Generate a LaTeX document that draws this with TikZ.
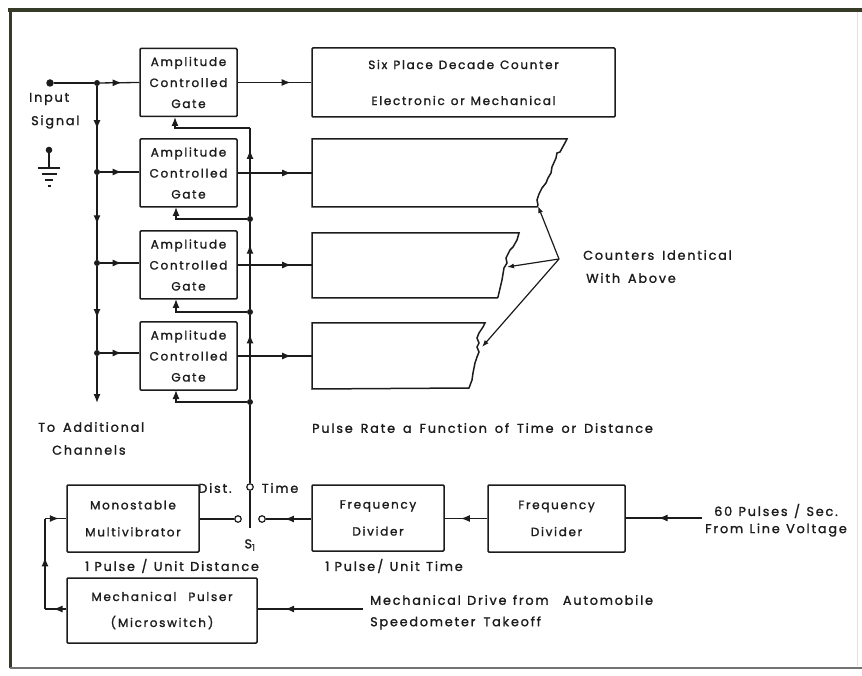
\documentclass[tikz,border=0pt]{standalone}
\usepackage{fontspec}
\setmainfont{Poppins}[LetterSpace=14, FakeBold=1.4]
\usetikzlibrary{decorations.markings,arrows.meta}
\definecolor{ink}{HTML}{1C1C1C}
\definecolor{frameolive}{HTML}{363B28}
\newcommand\wsp{\hspace{0.62em}}
\tikzset{
  box/.style={draw=ink, line width=1.5pt, rounded corners=1pt, align=center, inner sep=0pt, text=ink},
  gatebox/.style={box, minimum width=97pt, minimum height=68pt, font=\fontsize{12}{21}\selectfont},
  wire/.style={draw=ink, line width=1.3pt},
  mid/.style={postaction={decorate}, decoration={markings, mark=at position #1 with {\arrow{Latex[length=9pt,width=7pt]}}}},
  endarr/.style={-{Latex[length=9pt,width=7pt]}},
  jdot/.style={circle, fill=ink, inner sep=0pt, minimum size=6pt},
  term/.style={circle, draw=ink, fill=white, line width=1.2pt, inner sep=0pt, minimum size=6.5pt},
  lbl/.style={inner sep=0pt, text=ink, font=\fontsize{12.8}{15}\selectfont},
}
\begin{document}
\begin{tikzpicture}[x=1pt,y=-1pt]
\useasboundingbox (0,0) rectangle (862,676);
% frame
\draw[frameolive, line width=3.2pt] (8,10) -- (862,10);
\draw[frameolive, line width=3pt] (10,8) -- (10,668);
\draw[black!55, line width=1.3pt] (10,668) -- (862,668);
\draw[black!12, line width=1pt] (857,12) -- (857,666);

% gates
\node[gatebox] (g1) at (188.5,82.5) {Amplitude\\Controlled\\Gate};
\node[gatebox] (g2) at (188.5,173) {Amplitude\\Controlled\\Gate};
\node[gatebox] (g3) at (188.5,265) {Amplitude\\Controlled\\Gate};
\node[gatebox] (g4) at (188.5,356) {Amplitude\\Controlled\\Gate};

% top counter
\node[box, minimum width=303pt, minimum height=69pt, font=\fontsize{12}{36}\selectfont] (c1) at (463.5,82.5) {Six\enspace Place\enspace Decade\enspace Counter\\Electronic\enspace or\enspace Mechanical};

% partial counters
\draw[ink, line width=1.5pt] (312,139) -- (567,139) -- (566,141) -- (560,152) -- (557,153) -- (556,158) -- (552,167) -- (551,173) -- (548,178) -- (546,183) -- (542,188) -- (539,194) -- (537,200) -- (538,205) -- (537,207) -- (312,207) -- cycle;
\draw[ink, line width=1.5pt] (312,233) -- (519,233) -- (517,240) -- (513,247) -- (510,250) -- (506,258) -- (507,263) -- (504,268) -- (502,280) -- (498,297) -- (497,298) -- (312,298) -- cycle;
\draw[ink, line width=1.5pt] (312,323) -- (485,323) -- (483,327) -- (479,333) -- (477,338) -- (479,343) -- (477,347) -- (479,352) -- (477,357) -- (475,363) -- (473,373) -- (472,380) -- (469,388) -- (312,389) -- cycle;
\coordinate (c2) at (312,173);
\coordinate (c3) at (312,265);
\coordinate (c4) at (312,356);

% input
\node[circle, fill=ink, inner sep=0pt, minimum size=7.5pt] (in) at (50,83) {};
\node[jdot] (j1) at (97,83) {};
\node[jdot] (j2) at (97,172) {};
\node[jdot] (j3) at (97,263) {};
\node[jdot] (j4) at (97,353) {};
\coordinate (jend) at (97,403);
\draw[wire] (in) -- (j1);
\draw[wire, mid=0.55] (j1) -- (g1.west);
\draw[wire, mid=0.55] (j2) -- (j2 -| g2.west);
\draw[wire, mid=0.55] (j3) -- (j3 -| g3.west);
\draw[wire, mid=0.55] (j4) -- (j4 -| g4.west);
\draw[wire, mid=0.52] (j1) -- (j2);
\draw[wire, mid=0.58] (j2) -- (j3);
\draw[wire, mid=0.62] (j3) -- (j4);
\draw[wire, endarr] (j4) -- (jend);

% ground
\fill[ink] (49,150) circle (3.3pt);
\draw[ink, line width=1.5pt] (49,150) -- (49,168);
\draw[ink, line width=1.6pt] (38,168) -- (60,168);
\draw[ink, line width=1.6pt] (41.5,174) -- (56.5,174);
\draw[ink, line width=1.6pt] (45,180) -- (53,180);
\draw[ink, line width=1.6pt] (47.5,186) -- (50.5,186);

% gate outputs
\draw[wire, mid=0.72] (g1.east) -- (c1.west);
\draw[wire, mid=0.72] (g2.east) -- (c2);
\draw[wire, mid=0.72] (g3.east) -- (c3);
\draw[wire, mid=0.72] (g4.east) -- (c4);

% control line
\node[term] (sw) at (250,487) {};
\node[jdot] (k4) at (250,402) {};
\node[jdot] (k3) at (250,312) {};
\node[jdot] (k2) at (250,219) {};
\coordinate (k1) at (250,128);
\draw[wire] (sw) -- (k4);
\draw[wire, mid=0.77] (k4) -- (k3);
\draw[wire, mid=0.74] (k3) -- (k2);
\draw[wire, mid=0.75] (k2) -- (k1);
\draw[wire, endarr] (k1) -- (175,128) -- (175,117);
\draw[wire, endarr] (k2) -- (176,219) -- (176,207);
\draw[wire, endarr] (k3) -- (176,312) -- (176,299);
\draw[wire, endarr] (k4) -- (176,402) -- (176,390);

% lower blocks
\node[box, minimum width=132pt, minimum height=67pt, font=\fontsize{12}{27}\selectfont] (mm) at (133,518.5) {Monostable\\Multivibrator};
\node[box, minimum width=132pt, minimum height=66pt, font=\fontsize{12}{27}\selectfont] (fd1) at (378,518) {Frequency\\Divider};
\node[box, minimum width=137pt, minimum height=67pt, font=\fontsize{12}{27}\selectfont] (fd2) at (556.5,518.5) {Frequency\\Divider};
\node[box, minimum width=190pt, minimum height=65pt, font=\fontsize{12}{26}\selectfont] (mp) at (162,610.5) {Mechanical\enspace\enspace Pulser\\(\,Microswitch\,)};

% switch
\node[term] (cl) at (238,519) {};
\node[term] (cr) at (262,519) {};
\coordinate (blade) at (250,528);
\draw[wire] (sw) -- (blade);
\draw[wire] (mm.east |- cl) -- (cl);
\draw[wire, mid=0.58] (fd1.west |- cr) -- (cr);
\draw[wire, mid=0.62] (fd2.west) -- (fd2.west -| fd1.east);
\coordinate (src) at (702,518);
\draw[wire, mid=0.57] (src) -- (src -| fd2.east);
\coordinate (md) at (363,609);
\draw[wire, mid=0.74] (md) -- (md -| mp.east);
\coordinate (b1) at (45,609);
\coordinate (b2) at (45,518.5);
\draw[wire, mid=0.6] (mp.west |- b1) -- (b1);
\draw[wire, mid=0.57] (b1) -- (b2);
\draw[wire, mid=0.65] (b2) -- (mm.west);

% pointer
\coordinate (P) at (559,259);
\coordinate (t2) at (538,206);
\coordinate (t3) at (507,267);
\coordinate (t4) at (482,347);
\draw[ink, line width=1.2pt, -{Latex[length=7pt,width=5pt]}] (P) -- (t2);
\draw[ink, line width=1.2pt, -{Latex[length=7pt,width=5pt]}] (P) -- (t3);
\draw[ink, line width=1.2pt, -{Latex[length=7pt,width=5pt]}] (P) -- (t4);

% labels
\node[lbl, anchor=west] (l1) at (29,99) {Input};
\node[lbl, anchor=west] (l2) at (31,122) {Signal};
\node[lbl, anchor=west] (l3) at (583,255) {Counters\wsp Identical};
\node[lbl, anchor=west] (l4) at (586,278) {With\wsp Above};
\node[lbl, anchor=west] (l5) at (38,427) {To\wsp Additional};
\node[lbl, anchor=west] (l6) at (52,450) {Channels};
\node[lbl, anchor=west] (l7) at (312,428) {Pulse\wsp Rate\wsp a\wsp Function\wsp of\wsp Time\wsp or\wsp Distance};
\node[lbl] (l8) at (215,488) {Dist.};
\node[lbl] (l9) at (280,488) {Time};
\node[lbl] (l10) at (250,545) {S\textsubscript{1}};
\node[lbl] (l11) at (172,566) {1 Pulse\enspace/\enspace Unit\enspace Distance};
\node[lbl] (l12) at (394,566) {1 Pulse\,/\enspace Unit\enspace Time};
\node[lbl] (l13) at (776,511) {60\enspace Pulses\enspace/\enspace Sec.};
\node[lbl] (l14) at (776,530) {From\enspace Line\enspace Voltage};
\node[lbl, anchor=west] (l15) at (370,600) {Mechanical\enspace Drive\enspace from\wsp\enspace Automobile};
\node[lbl, anchor=west] (l16) at (370,623) {Speedometer\wsp Takeoff};
\end{tikzpicture}
\end{document}
